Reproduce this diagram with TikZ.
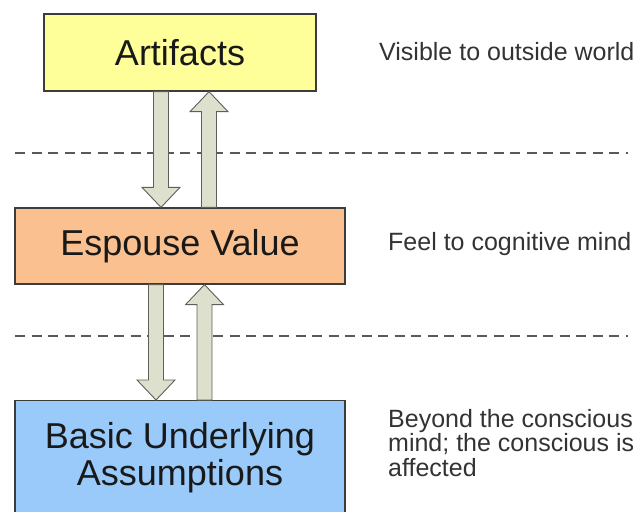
\documentclass[tikz,border=0pt]{standalone}
\usepackage{fontspec}
\setmainfont{Liberation Sans}
\usepackage{tikz}
\usetikzlibrary{positioning,calc}
\definecolor{artfill}{RGB}{255,255,153}
\definecolor{espfill}{RGB}{250,192,143}
\definecolor{basfill}{RGB}{153,202,250}
\definecolor{arrowfill}{RGB}{221,224,205}
\definecolor{arrowline}{RGB}{95,95,88}
\definecolor{boxline}{RGB}{60,60,60}
\tikzset{
  layer/.style={draw=boxline, line width=1.3pt, align=center, text=black!90,
    font=\fontsize{36}{37}\selectfont},
  note/.style={inner sep=0pt, align=left, text=black!80,
    font=\fontsize{25}{24.5}\selectfont},
  sep/.style={draw=black!65, line width=1.2pt, dash pattern=on 10pt off 6.5pt},
  blk/.style={draw=arrowline, fill=arrowfill, line width=0.9pt, line join=miter,
    to path={let \p1=(\tikztostart), \p2=(\tikztotarget), \n1={sign(\y2-\y1)} in
      (\x1-7.5,\y1) -- (\x1-7.5,\y2-20*\n1) -- (\x1-19,\y2-20*\n1) -- (\x2,\y2)
      -- (\x1+19,\y2-20*\n1) -- (\x1+7.5,\y2-20*\n1) -- (\x1+7.5,\y1) -- cycle}},
}

\begin{document}
\begin{tikzpicture}[x=1pt, y=-1pt]
\useasboundingbox (0,0) rectangle (644,511);
\clip (0,0) rectangle (644,511);

% separators
\coordinate (sep1l) at (15,153);
\coordinate (sep1r) at (628,153);
\coordinate (sep2l) at (15,336);
\coordinate (sep2r) at (628,336);
\draw[sep] (sep1l) -- (sep1r);
\draw[sep] (sep2l) -- (sep2r);

% layers
\node (art) [layer, fill=artfill, minimum width=272pt, minimum height=77pt] at (180,52.5) {Artifacts};
\node (esp) [layer, fill=espfill, minimum width=330pt, minimum height=76pt] at (180,246) {Espouse Value};
\node (bas) [layer, fill=basfill, minimum width=330pt, inner ysep=22pt, text depth=12pt, anchor=north] at (180,400) {Basic Underlying\\Assumptions};

% notes
\node (vis) [note, anchor=base west] at (379,60) {Visible to outside world};
\node (feel) [note, anchor=base west] at (388,250) {Feel to cognitive mind};
\node (beyond) [note, anchor=north west] at (388,409) {Beyond the conscious\\mind; the conscious is\\affected};

% arrows between layers
\draw[blk] ($(art.south)+(-19,0)$) to ($(esp.north)+(-19,0)$);
\draw[blk] ($(esp.north)+(29,0)$) to ($(art.south)+(29,0)$);
\draw[blk] ($(esp.south)+(-24,0)$) to ($(bas.north)+(-24,0)$);
\draw[blk] ($(bas.north)+(24.5,0)$) to ($(esp.south)+(24.5,0)$);
\end{tikzpicture}
\end{document}
